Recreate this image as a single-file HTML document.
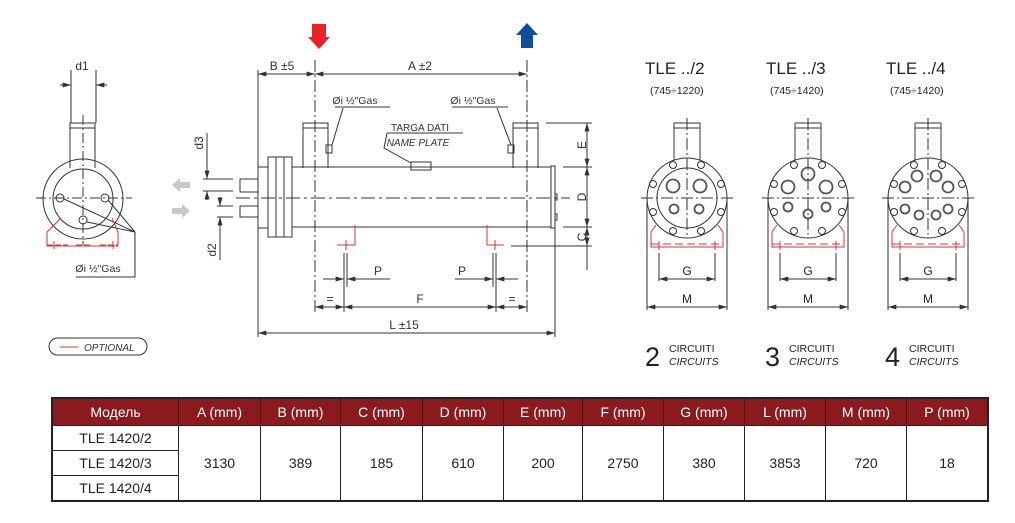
<!DOCTYPE html>
<html><head><meta charset="utf-8"><style>
body{margin:0;background:#fff;width:1015px;height:523px;overflow:hidden;position:relative;font-family:"Liberation Sans",sans-serif}
svg{position:absolute;left:0;top:0}
table{position:absolute;left:51px;top:397px;border-collapse:collapse;font-family:"Liberation Sans",sans-serif;font-size:14px;color:#222}
td,th{border:1px solid #222;text-align:center;padding:0}
th{background:#8a1a1d;color:#fff;font-weight:normal;height:26px;border-color:#5a0d10}
td{height:24px}
</style></head><body>
<svg width="1015" height="523" viewBox="0 0 1015 523" font-family="Liberation Sans, sans-serif">
<defs>
<marker id="a" viewBox="0 0 10 6" refX="10" refY="3" markerWidth="9" markerHeight="5" orient="auto-start-reverse" markerUnits="userSpaceOnUse"><path d="M0,0L10,3L0,6z" fill="#333"/></marker>
</defs>
<g stroke="#333" stroke-width="1" fill="none">
<!-- LEFT END VIEW -->
<line x1="60" y1="85" x2="71" y2="85" marker-end="url(#a)"/>
<line x1="107" y1="85" x2="96" y2="85" marker-end="url(#a)"/>
<line x1="71" y1="70" x2="71" y2="123"/><line x1="96" y1="70" x2="96" y2="123"/>
<rect x="70" y="123" width="25" height="5"/>
<path d="M70,128V168M95,128V168"/>
<circle cx="83" cy="199" r="40"/>
<circle cx="83" cy="199" r="30"/>
<circle cx="60" cy="198" r="4"/><circle cx="105" cy="198" r="4"/><circle cx="83" cy="220" r="4"/>
<line x1="36" y1="198" x2="132" y2="198" stroke-dasharray="10,3,2,3"/>
<line x1="83" y1="115" x2="83" y2="245" stroke-dasharray="10,3,2,3"/>
<path d="M64,199L135,232M108,200L135,232M87,222L135,232M135,232V277H76"/>
<!-- SIDE VIEW -->
<line x1="258" y1="70" x2="258" y2="337"/>
<line x1="315" y1="60" x2="315" y2="312" stroke-dasharray="12,3,2,3"/>
<line x1="527" y1="60" x2="527" y2="312" stroke-dasharray="12,3,2,3"/>
<line x1="258" y1="74" x2="315" y2="74" marker-start="url(#a)" marker-end="url(#a)"/>
<line x1="315" y1="74" x2="527" y2="74" marker-start="url(#a)" marker-end="url(#a)"/>
<rect x="303" y="123" width="25" height="5"/><path d="M303,128V168M328,128V168"/>
<rect x="513" y="123" width="25" height="5"/><path d="M513,128V168M538,128V168"/>
<path d="M292,167H551V227H292"/>
<rect x="551" y="166" width="4" height="62"/>
<rect x="555" y="194" width="2" height="6"/><rect x="555" y="214" width="2" height="6"/>
<rect x="268" y="157" width="24" height="80"/>
<path d="M276,157V237M284,157V237"/>
<rect x="258" y="167" width="10" height="61"/>
<path d="M258,179H240V192H258M258,206H240V217H258"/>
<line x1="236" y1="198" x2="570" y2="198" stroke-dasharray="14,4,3,4"/>
<rect x="411" y="162" width="20" height="8"/>
<path d="M387,133H463M387,133L384,148L411,163"/>
<path d="M335,107H390M343,108L332,145M452,107H508M497,108L511,145"/>
<rect x="326" y="145" width="6" height="8"/><rect x="508" y="145" width="6" height="8"/>
<!-- d3 d2 -->
<path d="M203,179H233M203,191H233M217,206H233M217,217H233"/>
<line x1="207" y1="133" x2="207" y2="179" marker-end="url(#a)"/>
<line x1="207" y1="200" x2="207" y2="191" marker-end="url(#a)"/>
<line x1="220" y1="197" x2="220" y2="206" marker-end="url(#a)"/>
<line x1="220" y1="260" x2="220" y2="217" marker-end="url(#a)"/>
<!-- E D C -->
<path d="M546,123H592M563,167H592M563,227H592M511,246H592"/>
<line x1="587" y1="123" x2="587" y2="167" marker-start="url(#a)" marker-end="url(#a)"/>
<line x1="587" y1="167" x2="587" y2="227" marker-start="url(#a)" marker-end="url(#a)"/>
<line x1="587" y1="227" x2="587" y2="246" marker-start="url(#a)" marker-end="url(#a)"/>
<line x1="587" y1="246" x2="587" y2="270"/>
<!-- P F L -->
<path d="M344,253V312M347,253V287M493,253V287M496,253V312"/>
<line x1="323" y1="279" x2="344" y2="279" marker-end="url(#a)"/>
<line x1="390" y1="279" x2="347" y2="279" marker-end="url(#a)"/>
<line x1="455" y1="279" x2="493" y2="279" marker-end="url(#a)"/>
<line x1="518" y1="279" x2="496" y2="279" marker-end="url(#a)"/>
<line x1="315" y1="307" x2="344" y2="307" marker-start="url(#a)" marker-end="url(#a)"/>
<line x1="344" y1="307" x2="496" y2="307" marker-start="url(#a)" marker-end="url(#a)"/>
<line x1="496" y1="307" x2="527" y2="307" marker-start="url(#a)" marker-end="url(#a)"/>
<line x1="555" y1="228" x2="555" y2="337"/>
<line x1="258" y1="333" x2="555" y2="333" marker-start="url(#a)" marker-end="url(#a)"/>
<rect x="49" y="338" width="98" height="17" rx="8.5"/>
</g>
<!-- red optional -->
<g stroke="#d8343a" stroke-width="1" fill="none">
<path d="M61,218L47,232V246H118V232L112,218"/>
<path d="M47,245H68M76,245H92M100,245H118" stroke-dasharray="6,2"/>
<path d="M54,241V249M113,241V249"/>
<path d="M355,225V245H337M346,240V250"/>
<path d="M487,225V245H504M495,240V250"/>
<line x1="60" y1="347" x2="78" y2="347"/>
</g>
<!-- arrows -->
<path d="M312,24H326V37H330L319,49L308,37H312Z" fill="#e8242a"/>
<path d="M521,48V35H516L527,23L538,35H533V48Z" fill="#0d4d9a"/>
<path d="M172,185L180,178V182H190V188H180V192Z" fill="#c8c8c8"/>
<path d="M190,211L182,204V208H172V214H182V218Z" fill="#c8c8c8"/>
<!-- text -->
<g fill="#333" font-size="12">
<text x="82" y="70" text-anchor="middle">d1</text>
<text x="98" y="272" text-anchor="middle" font-size="10.5">Øi ½"Gas</text>
<text x="282" y="70" text-anchor="middle">B ±5</text>
<text x="420" y="70" text-anchor="middle">A ±2</text>
<text x="355" y="104" text-anchor="middle" font-size="10.5">Øi ½"Gas</text>
<text x="473" y="104" text-anchor="middle" font-size="10.5">Øi ½"Gas</text>
<text x="420" y="131" text-anchor="middle" font-size="10">TARGA DATI</text>
<text x="418" y="146" text-anchor="middle" font-size="10" font-style="italic">NAME PLATE</text>
<text transform="translate(203,143) rotate(-90)" text-anchor="middle">d3</text>
<text transform="translate(216,250) rotate(-90)" text-anchor="middle">d2</text>
<text transform="translate(586,145) rotate(-90)" text-anchor="middle">E</text>
<text transform="translate(586,197) rotate(-90)" text-anchor="middle">D</text>
<text transform="translate(586,237) rotate(-90)" text-anchor="middle">C</text>
<text x="378" y="275" text-anchor="middle">P</text>
<text x="462" y="275" text-anchor="middle">P</text>
<text x="330" y="303" text-anchor="middle">=</text>
<text x="420" y="303" text-anchor="middle">F</text>
<text x="512" y="303" text-anchor="middle">=</text>
<text x="404" y="329" text-anchor="middle">L ±15</text>
<text x="84" y="351" font-size="10" font-style="italic">OPTIONAL</text>
</g>
<g fill="#222" font-size="17">
<text x="645" y="74">TLE ../2</text><text x="766" y="74">TLE ../3</text><text x="886" y="74">TLE ../4</text>
<g font-size="10.5"><text x="650" y="94">(745÷1220)</text><text x="770" y="94">(745÷1420)</text><text x="890" y="94">(745÷1420)</text></g>
<g font-size="27"><text x="645" y="366">2</text><text x="765" y="366">3</text><text x="885" y="366">4</text></g>
<g font-size="10.5"><text x="669" y="352">CIRCUITI</text><text x="669" y="365" font-style="italic">CIRCUITS</text>
<text x="789" y="352">CIRCUITI</text><text x="789" y="365" font-style="italic">CIRCUITS</text>
<text x="909" y="352">CIRCUITI</text><text x="909" y="365" font-style="italic">CIRCUITS</text></g>
<g font-size="12" text-anchor="middle"><text x="687" y="275">G</text><text x="687" y="303">M</text>
<text x="808" y="275">G</text><text x="808" y="303">M</text><text x="928" y="275">G</text><text x="928" y="303">M</text></g>
</g>
<g transform="translate(687,198)">
<g stroke="#333" stroke-width="1" fill="none">
<rect x="-13" y="-75" width="26" height="5"/><path d="M-13,-70V-38M13,-70V-38"/>
<circle r="40"/><circle r="30"/>
<g><circle cx="-14" cy="-33" r="3.5"/><circle cx="14" cy="-33" r="3.5"/><circle cx="-34" cy="-14" r="3.5"/><circle cx="34" cy="-14" r="3.5"/><circle cx="-34" cy="14" r="3.5"/><circle cx="34" cy="14" r="3.5"/><circle cx="-14" cy="33" r="3.5"/><circle cx="14" cy="33" r="3.5"/></g>
<g stroke-width="1.8" stroke="#555"><circle cx="-14" cy="-12" r="6.5"/><circle cx="13" cy="-12" r="6.5"/><circle cx="-13" cy="11" r="4.5"/><circle cx="12" cy="11" r="4.5"/></g>
<path d="M-46,0H46M0,-80V40" stroke-dasharray="12,3,2,3"/>
<path d="M-40,0V112M40,0V112M-28,55V83M28,55V83"/>
<line x1="-28" y1="81" x2="28" y2="81" marker-start="url(#a)" marker-end="url(#a)"/>
<line x1="-40" y1="109" x2="40" y2="109" marker-start="url(#a)" marker-end="url(#a)"/>
</g>
<g stroke="#d8343a" fill="none"><path d="M-31,27L-36,34V49H36V34L31,27"/><path d="M-36,46H36M-36,49H36" stroke-dasharray="8,4"/><path d="M-28,43V52M28,43V52"/></g>
</g>
<g transform="translate(808,198)">
<g stroke="#333" stroke-width="1" fill="none">
<rect x="-13" y="-75" width="26" height="5"/><path d="M-13,-70V-38M13,-70V-38"/>
<circle r="40"/>
<circle cx="-14" cy="-33" r="3.5"/><circle cx="14" cy="-33" r="3.5"/><circle cx="-34" cy="-14" r="3.5"/><circle cx="34" cy="-14" r="3.5"/><circle cx="-34" cy="14" r="3.5"/><circle cx="34" cy="14" r="3.5"/><circle cx="-14" cy="33" r="3.5"/><circle cx="14" cy="33" r="3.5"/>
<g stroke-width="1.8" stroke="#555"><circle cx="0" cy="-24" r="6.5"/><circle cx="-20" cy="-11" r="6.5"/><circle cx="18" cy="-11" r="6.5"/><circle cx="-20" cy="9" r="4.5"/><circle cx="18" cy="9" r="4.5"/><circle cx="0" cy="16" r="4.5"/></g>
<path d="M-46,0H46M0,-80V40" stroke-dasharray="12,3,2,3"/>
<path d="M-40,0V112M40,0V112M-28,55V83M28,55V83"/>
<line x1="-28" y1="81" x2="28" y2="81" marker-start="url(#a)" marker-end="url(#a)"/>
<line x1="-40" y1="109" x2="40" y2="109" marker-start="url(#a)" marker-end="url(#a)"/>
</g>
<g stroke="#d8343a" fill="none"><path d="M-31,27L-36,34V49H36V34L31,27"/><path d="M-36,46H36M-36,49H36" stroke-dasharray="8,4"/><path d="M-28,43V52M28,43V52"/></g>
</g>
<g transform="translate(928,198)">
<g stroke="#333" stroke-width="1" fill="none">
<rect x="-13" y="-75" width="26" height="5"/><path d="M-13,-70V-38M13,-70V-38"/>
<circle r="40"/>
<circle cx="-14" cy="-33" r="3.5"/><circle cx="14" cy="-33" r="3.5"/><circle cx="-34" cy="-14" r="3.5"/><circle cx="34" cy="-14" r="3.5"/><circle cx="-34" cy="14" r="3.5"/><circle cx="34" cy="14" r="3.5"/><circle cx="-14" cy="33" r="3.5"/><circle cx="14" cy="33" r="3.5"/>
<g stroke-width="1.8" stroke="#555"><circle cx="-11" cy="-22" r="5.5"/><circle cx="8" cy="-22" r="5.5"/><circle cx="-23" cy="-11" r="5.5"/><circle cx="20" cy="-11" r="5.5"/><circle cx="-23" cy="11" r="4.5"/><circle cx="20" cy="11" r="4.5"/><circle cx="-9" cy="17" r="4.5"/><circle cx="8" cy="17" r="4.5"/></g>
<path d="M-46,0H46M0,-80V40" stroke-dasharray="12,3,2,3"/>
<path d="M-40,0V112M40,0V112M-28,55V83M28,55V83"/>
<line x1="-28" y1="81" x2="28" y2="81" marker-start="url(#a)" marker-end="url(#a)"/>
<line x1="-40" y1="109" x2="40" y2="109" marker-start="url(#a)" marker-end="url(#a)"/>
</g>
<g stroke="#d8343a" fill="none"><path d="M-31,27L-36,34V49H36V34L31,27"/><path d="M-36,46H36M-36,49H36" stroke-dasharray="8,4"/><path d="M-28,43V52M28,43V52"/></g>
</g>
</svg>
<table style="border:2px solid #222">
<tr><th style="width:125px">Модель</th><th style="width:81px">A (mm)</th><th style="width:79px">B (mm)</th><th style="width:81px">C (mm)</th><th style="width:80px">D (mm)</th><th style="width:78px">E (mm)</th><th style="width:80px">F (mm)</th><th style="width:80px">G (mm)</th><th style="width:80px">L (mm)</th><th style="width:80px">M (mm)</th><th style="width:80px">P (mm)</th></tr>
<tr><td>TLE 1420/2</td><td rowspan="3">3130</td><td rowspan="3">389</td><td rowspan="3">185</td><td rowspan="3">610</td><td rowspan="3">200</td><td rowspan="3">2750</td><td rowspan="3">380</td><td rowspan="3">3853</td><td rowspan="3">720</td><td rowspan="3">18</td></tr>
<tr><td>TLE 1420/3</td></tr>
<tr><td>TLE 1420/4</td></tr>
</table>
</body></html>
